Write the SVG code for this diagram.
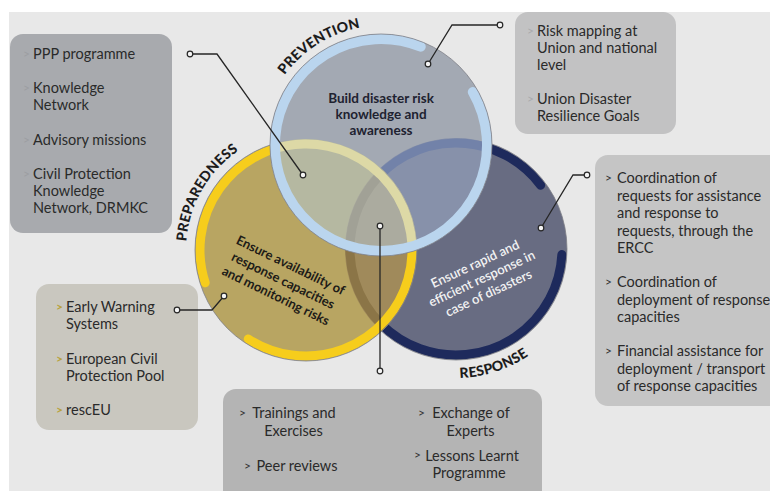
<svg xmlns="http://www.w3.org/2000/svg" width="770" height="491" viewBox="0 0 770 491">
<style>
  text { font-family: Lato, "Open Sans", "DejaVu Sans", sans-serif; }
  .bx { font-size: 14.5px; fill: #2a2a2a; }
  .bl { font-size: 12px; fill: #9c9ea2; }
  .bd { font-size: 12px; fill: #333333; }
  .by { font-size: 12px; fill: #b8a23c; font-weight: bold; }
  .arc { font-size: 14px; font-weight: 900; fill: #1c1c1c; letter-spacing: 0.2px; }
  .ctr { font-size: 13.5px; font-weight: bold; fill: #1e2230; text-anchor: middle; }
  .ctry { font-size: 13px; font-weight: bold; fill: #1e1c18; text-anchor: middle; }
  .ctrw { font-size: 13px; font-weight: 600; fill: #f2f2f2; text-anchor: middle; }
  .ring { fill: none; stroke-linecap: round; }
  .outline { fill: none; stroke: #7d7f86; stroke-width: 0.8; }
  .conn { fill: none; stroke: #262626; stroke-width: 1.3; }
  .dot { fill: #f4f4f4; stroke: #262626; stroke-width: 1.2; }
</style>
<defs>
  <clipPath id="cpB"><circle cx="381" cy="145" r="111"/></clipPath>
  <clipPath id="cpY"><circle cx="306" cy="250" r="111"/></clipPath>
  <clipPath id="cpN"><circle cx="456" cy="249" r="111"/></clipPath>
  <path id="ringB" d="M472.8,92 A106,106 0 1 1 420.71,46.72"/>
  <path id="ringY" d="M205.19,282.76 A106,106 0 1 1 248.27,338.90"/>
  <path id="ringN" d="M561.85,254.55 A106,106 0 1 1 540.66,185.21"/>
  <path id="arcPrev" d="M262.07,149.15 A119,119 0 0 1 436.87,39.93"/>
  <path id="arcPrep" d="M202.08,310 A120,120 0 0 1 306,130"/>
  <path id="arcResp" d="M369.68,344.86 A129,129 0 0 0 582.18,275.82"/>
</defs>

<rect x="9" y="12" width="761" height="479" fill="#e8e8e8"/>

<!-- Boxes -->
<g id="box-prep-knowledge">
  <rect x="10" y="34" width="162" height="199" rx="13" fill="#a8aaae"/>
  <text class="bl" x="23" y="58">&gt;</text>
  <text class="bx" x="33" y="59">PPP programme</text>
  <text class="bl" x="23" y="92">&gt;</text>
  <text class="bx" x="33" y="93">Knowledge</text>
  <text class="bx" x="33" y="110">Network</text>
  <text class="bl" x="23" y="144">&gt;</text>
  <text class="bx" x="33" y="145">Advisory missions</text>
  <text class="bl" x="23" y="178">&gt;</text>
  <text class="bx" x="33" y="179">Civil Protection</text>
  <text class="bx" x="33" y="196">Knowledge</text>
  <text class="bx" x="33" y="213">Network, DRMKC</text>
</g>

<g id="box-prevention">
  <rect x="515" y="12" width="161" height="122" rx="13" fill="#c2c2c3"/>
  <text class="bl" x="527" y="35" style="fill:#a9aaad">&gt;</text>
  <text class="bx" x="537" y="36">Risk mapping at</text>
  <text class="bx" x="537" y="53">Union and national</text>
  <text class="bx" x="537" y="70">level</text>
  <text class="bl" x="527" y="103" style="fill:#a9aaad">&gt;</text>
  <text class="bx" x="537" y="104">Union Disaster</text>
  <text class="bx" x="537" y="121">Resilience Goals</text>
</g>

<g id="box-response">
  <rect x="595" y="155" width="190" height="251" rx="13" fill="#c5c5c5"/>
  <text class="bd" x="605" y="182">&gt;</text>
  <text class="bx" x="617" y="183">Coordination of</text>
  <text class="bx" x="617" y="200.5">requests for assistance</text>
  <text class="bx" x="617" y="218">and response to</text>
  <text class="bx" x="617" y="235.5">requests, through the</text>
  <text class="bx" x="617" y="253">ERCC</text>
  <text class="bd" x="605" y="286">&gt;</text>
  <text class="bx" x="617" y="287">Coordination of</text>
  <text class="bx" x="617" y="304.5">deployment of response</text>
  <text class="bx" x="617" y="322">capacities</text>
  <text class="bd" x="605" y="355">&gt;</text>
  <text class="bx" x="617" y="356">Financial assistance for</text>
  <text class="bx" x="617" y="373.5">deployment / transport</text>
  <text class="bx" x="617" y="391">of response capacities</text>
</g>

<g id="box-preparedness">
  <rect x="36" y="284" width="162" height="146" rx="13" fill="#c9c7bf"/>
  <text class="by" x="56" y="311">&gt;</text>
  <text class="bx" x="66" y="312">Early Warning</text>
  <text class="bx" x="66" y="329">Systems</text>
  <text class="by" x="56" y="363">&gt;</text>
  <text class="bx" x="66" y="364">European Civil</text>
  <text class="bx" x="66" y="381">Protection Pool</text>
  <text class="by" x="56" y="414">&gt;</text>
  <text class="bx" x="66" y="415">rescEU</text>
</g>

<g id="box-common">
  <rect x="223" y="389" width="319" height="120" rx="13" fill="#b4b4b4"/>
  <text class="bd" x="239" y="417">&gt;</text>
  <text class="bx" x="294" y="418" text-anchor="middle">Trainings and</text>
  <text class="bx" x="293.5" y="435.5" text-anchor="middle">Exercises</text>
  <text class="bd" x="244" y="470">&gt;</text>
  <text class="bx" x="297" y="471" text-anchor="middle">Peer reviews</text>
  <text class="bd" x="418" y="417">&gt;</text>
  <text class="bx" x="471" y="418" text-anchor="middle">Exchange of</text>
  <text class="bx" x="470.5" y="435.5" text-anchor="middle">Experts</text>
  <text class="bd" x="414" y="459">&gt;</text>
  <text class="bx" x="472" y="460.5" text-anchor="middle">Lessons Learnt</text>
  <text class="bx" x="469" y="477.5" text-anchor="middle">Programme</text>
</g>

<!-- Circles -->
<g id="response">
  <circle cx="456" cy="249" r="111" fill="#686c82"/>
  <use href="#ringN" class="ring" stroke="#1e2a5c" stroke-width="9"/>
  <circle cx="456" cy="249" r="111" class="outline"/>
</g>

<g id="preparedness">
  <circle cx="306" cy="250" r="111" fill="#b8a562"/>
  <g clip-path="url(#cpY)">
    <circle cx="456" cy="249" r="111" fill="#a08a5b"/>
    <use href="#ringN" class="ring" stroke="#8b7547" stroke-width="9"/>
  </g>
  <use href="#ringY" class="ring" stroke="#f6cd1c" stroke-width="9"/>
  <circle cx="306" cy="250" r="111" class="outline"/>
</g>

<g id="prevention">
  <circle cx="381" cy="145" r="111" fill="#a3a9b3"/>
  <g clip-path="url(#cpB)">
    <circle cx="456" cy="249" r="111" fill="#8791aa"/>
    <use href="#ringN" class="ring" stroke="#7282a9" stroke-width="9"/>
    <circle cx="306" cy="250" r="111" fill="#b5b8a1"/>
    <g clip-path="url(#cpY)">
      <circle cx="456" cy="249" r="111" fill="#abab9f"/>
      <use href="#ringN" class="ring" stroke="#a1a196" stroke-width="9"/>
    </g>
    <use href="#ringY" class="ring" stroke="#ddd9a6" stroke-width="9"/>
  </g>
  <use href="#ringB" class="ring" stroke="#bad5ee" stroke-width="10"/>
  <circle cx="381" cy="145" r="111" class="outline"/>
</g>

<g id="labels">
  <text class="arc"><textPath href="#arcPrev" startOffset="50%" text-anchor="middle">PREVENTION</textPath></text>
  <text class="arc"><textPath href="#arcPrep" startOffset="50%" text-anchor="middle">PREPAREDNESS</textPath></text>
  <text class="arc"><textPath href="#arcResp" startOffset="50%" text-anchor="middle">RESPONSE</textPath></text>

  <text class="ctr" x="381" y="102.5">Build disaster risk</text>
  <text class="ctr" x="381" y="118.5">knowledge and</text>
  <text class="ctr" x="381" y="134.5">awareness</text>

  <g transform="translate(283,281) rotate(26)">
    <text class="ctry" x="0" y="-13">Ensure availability of</text>
    <text class="ctry" x="0" y="4">response capacities</text>
    <text class="ctry" x="0" y="21">and monitoring risks</text>
  </g>

  <g transform="translate(482,279) rotate(-25)">
    <text class="ctrw" x="0" y="-12">Ensure rapid and</text>
    <text class="ctrw" x="0" y="4">efficient response in</text>
    <text class="ctrw" x="0" y="20">case of disasters</text>
  </g>
</g>

<!-- Connectors -->
<g id="connectors">
  <polyline class="conn" points="190,54 217,54 303,175"/>
  <polyline class="conn" points="428,64 452,25 500,25"/>
  <polyline class="conn" points="541,228 573,175 587,175"/>
  <polyline class="conn" points="177,310 212,310 224,296"/>
  <polyline class="conn" points="380,226 380,371"/>
  <circle class="dot" cx="190" cy="54" r="2.8"/>
  <circle class="dot" cx="303" cy="175" r="2.8"/>
  <circle class="dot" cx="428" cy="64" r="2.8"/>
  <circle class="dot" cx="500" cy="25" r="2.8"/>
  <circle class="dot" cx="541" cy="228" r="2.8"/>
  <circle class="dot" cx="587" cy="175" r="2.8"/>
  <circle class="dot" cx="177" cy="310" r="2.8"/>
  <circle class="dot" cx="224" cy="296" r="2.8"/>
  <circle class="dot" cx="380" cy="226" r="2.8"/>
  <circle class="dot" cx="380" cy="371" r="2.8"/>
</g>
</svg>
